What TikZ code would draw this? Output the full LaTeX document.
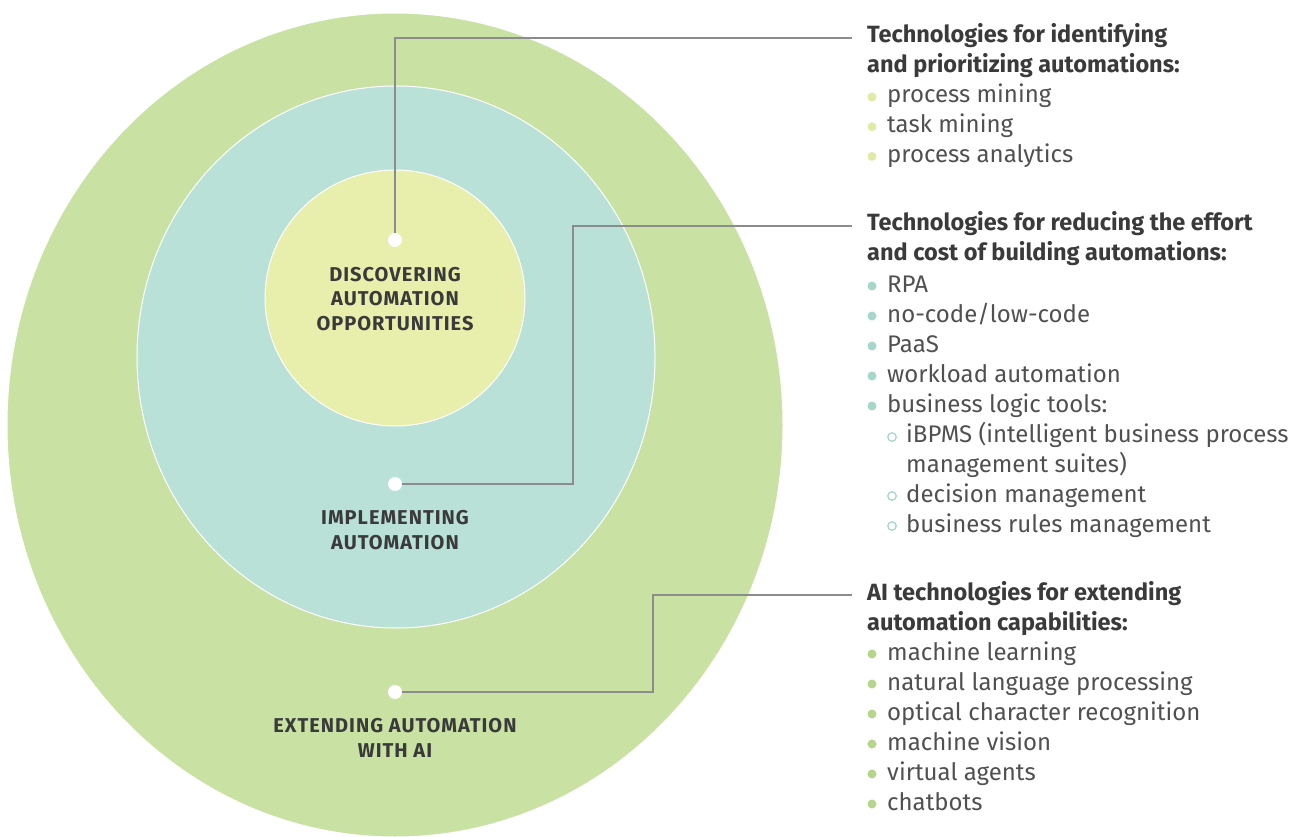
\documentclass[tikz,border=0pt]{standalone}
\usepackage{fontspec}
\setmainfont{Fira Sans}
\usetikzlibrary{positioning}
\definecolor{outerg}{HTML}{C9E2A3}
\definecolor{midt}{HTML}{B9E1D7}
\definecolor{innery}{HTML}{E8EFAD}
\definecolor{bula}{HTML}{E2EBA6}
\definecolor{bulb}{HTML}{A6D7CA}
\definecolor{bulc}{HTML}{B3D68C}
\definecolor{linegray}{HTML}{8C8C8C}
\definecolor{txt}{HTML}{505050}
\definecolor{head}{HTML}{3A3A3A}

\begin{document}
\begin{tikzpicture}[x=1pt,y=-1pt,
  ring/.style={draw=white, line width=1pt},
  dot/.style={circle, fill=white, inner sep=0pt, minimum size=14pt},
  lead/.style={draw=linegray, line width=1.4pt},
  heading/.style={anchor=base west, align=left, inner sep=0pt, text=head,
    font=\fontsize{23.5}{30}\selectfont\bfseries},
  item/.style={anchor=base west, inner sep=0pt, text=txt,
    font=\fontsize{24}{29.5}\selectfont},
  bul/.style={circle, fill=#1, inner sep=0pt, minimum size=9pt},
  subbul/.style={circle, draw=bulb, line width=1.3pt, inner sep=0pt, minimum size=8.5pt},
  ringlabel/.style={align=center, inner sep=0pt, text=head, anchor=base,
    font=\fontsize{20}{24.5}\selectfont\bfseries\addfontfeatures{LetterSpace=5}}]
\useasboundingbox (0,0) rectangle (1304,837);

% the three rings
\filldraw[fill=outerg, ring] (395,425) ellipse [x radius=388, y radius=412];
\filldraw[fill=midt, ring] (396,357) ellipse [x radius=259, y radius=271];
\filldraw[fill=innery, ring] (395,298) ellipse [x radius=130, y radius=128];

% ring labels (placed by their last line)
\node[ringlabel] (discover) at (395,330) {DISCOVERING\\AUTOMATION\\OPPORTUNITIES};
\node[ringlabel] (implement) at (395,549) {IMPLEMENTING\\AUTOMATION};
\node[ringlabel] (extend) at (395,757) {EXTENDING AUTOMATION\\WITH AI};

% dots and leaders
\node[dot] (d1) at (395,240) {};
\node[dot] (d2) at (395,484) {};
\node[dot] (d3) at (395,692) {};
\coordinate (e1) at (852,38);
\coordinate (k2) at (573,226);
\coordinate (e2) at (852,226);
\coordinate (k3) at (653,595);
\coordinate (e3) at (852,595);
\draw[lead] (d1.north) |- (e1);
\draw[lead] (d2.east) -| (k2) -- (e2);
\draw[lead] (d3.east) -| (k3) -- (e3);

% first list
\node[heading] (h1) at (867,73) {Technologies for identifying\\and prioritizing automations:};
\foreach \t [count=\i] in {process mining, task mining, process analytics} {
  \node[bul=bula] (ba\i) at (872,{97+29.7*(\i-1)}) {};
  \node[item] (ta\i) at (887,{103+29.7*(\i-1)}) {\t};
}

% second list
\node[heading] (h2) at (867,261) {Technologies for reducing the effort\\and cost of building automations:};
\foreach \t [count=\i] in {RPA, no-code/low-code, PaaS, workload automation, business logic tools:} {
  \node[bul=bulb] (bb\i) at (872,{286+30*(\i-1)}) {};
  \node[item] (tb\i) at (887,{292+30*(\i-1)}) {\t};
}
\node[subbul] (sb1) at (892,437) {};
\node[item, align=left] (sub1) at (906,472) {iBPMS (intelligent business process\\management suites)};
\node[subbul] (sb2) at (892,496) {};
\node[item] (sub2) at (906,502) {decision management};
\node[subbul] (sb3) at (892,526) {};
\node[item] (sub3) at (906,532) {business rules management};

% third list
\node[heading] (h3) at (867,630) {AI technologies for extending\\automation capabilities:};
\foreach \t [count=\i] in {machine learning, natural language processing, optical character recognition, machine vision, virtual agents, chatbots} {
  \node[bul=bulc] (bc\i) at (872,{654+30*(\i-1)}) {};
  \node[item] (tc\i) at (887,{660+30*(\i-1)}) {\t};
}
\end{tikzpicture}
\end{document}
